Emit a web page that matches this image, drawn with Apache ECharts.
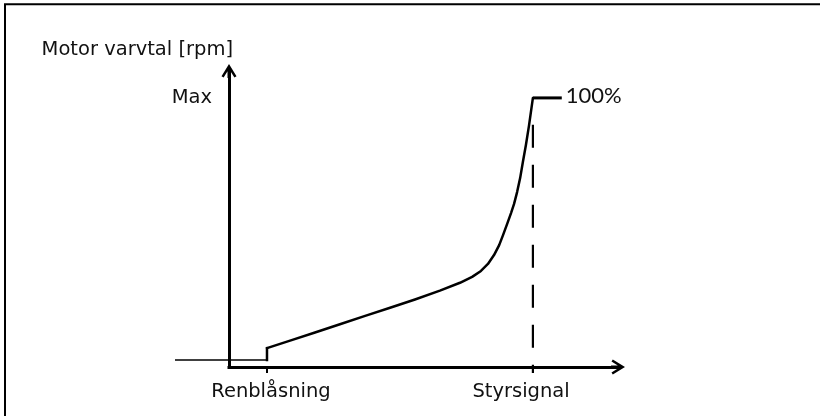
<!DOCTYPE html>
<html><head><meta charset="utf-8">
<script src="https://cdn.jsdelivr.net/npm/echarts@6/dist/echarts.min.js"></script>
<style>html,body{margin:0;padding:0;background:#fff}#c{width:820px;height:416px}</style>
</head><body><div id="c"></div>
<script>
// ---- data ----
const xTickValues = [12.5, 100];
const xLabelValues = [13.8, 96.1];
const xLabelNames = ['Renblåsning', 'Styrsignal'];
const yLabelValues = [100];
const yLabelNames = ['Max'];
const yAxisName = 'Motor varvtal [rpm]';
const leadLine = [[-17.8, 2.6], [0, 2.6]];
const baseLine = [[0, 2.6], [12.5, 2.6]];
const stepLine = [[12.5, 2.6], [12.5, 7.0]];
const curveX = [12.5, 20.1, 28.3, 36.5, 44.8, 53.0, 61.2, 69.4, 76.0, 80.0, 82.9, 85.2, 87.2, 88.9, 90.2, 91.5, 92.8, 93.8, 94.8, 95.8, 96.7, 97.7, 98.7, 100];
const curveY = [7.0, 9.8, 12.8, 15.9, 19.0, 22.0, 25.1, 28.4, 31.3, 33.5, 35.7, 38.3, 41.6, 45.3, 49.1, 53.1, 57.2, 60.6, 65.0, 70.2, 76.2, 82.5, 89.6, 100];
const topLine = [[100, 100], [109.5, 100]];
const topLabel = '100%';
const dashLine = [[100, 90], [100, -2.2]];

// ---- chart ----
const font = 'DejaVu Sans';
const ink = '#111';
const arrowPath = 'path://M7.5,0 L15,12.2 L12.9,13.5 L9,7.2 L9,14 L6,14 L6,7.2 L2.1,13.5 L0,12.2 Z';
const curveData = curveX.map((x, i) => [x, curveY[i]]);

const chart = echarts.init(document.getElementById('c'), null, {renderer: 'canvas'});
chart.setOption({
  animation: false,
  backgroundColor: '#fff',
  graphic: [{
    type: 'rect', z: 100, silent: true,
    shape: {x: 5, y: 4.2, width: 900, height: 500},
    style: {fill: 'none', stroke: '#000', lineWidth: 2}
  }],
  grid: [
    {left: 229, right: 202, top: 71, bottom: 49},
    {left: 175, width: 54, top: 71, bottom: 49}
  ],
  xAxis: [{
    type: 'value', min: 0, max: 128, gridIndex: 0,
    splitLine: {show: false},
    axisLine: {show: true, onZero: false, symbol: ['none', arrowPath], symbolSize: [15, 14],
      lineStyle: {color: '#000', width: 3, cap: 'square'}},
    axisTick: {show: true, customValues: xTickValues, length: 6, inside: false,
      lineStyle: {color: '#000', width: 2}},
    axisLabel: {show: true, customValues: xLabelValues, margin: 15,
      formatter: v => xLabelNames[xLabelValues.indexOf(v)] || '',
      fontFamily: font, fontSize: 19.5, color: ink}
  }, {
    type: 'value', min: -17.8, max: 0, gridIndex: 1, show: false
  }],
  yAxis: [{
    type: 'value', min: 0, max: 110, gridIndex: 0,
    name: yAxisName, nameLocation: 'end', nameGap: 11,
    nameTextStyle: {fontFamily: font, fontSize: 19.5, color: ink, align: 'right', padding: [0, -4, 0, 0]},
    splitLine: {show: false},
    axisLine: {show: true, onZero: false, symbol: ['none', arrowPath], symbolSize: [15, 14],
      lineStyle: {color: '#000', width: 3, cap: 'square'}},
    axisTick: {show: false},
    axisLabel: {show: true, customValues: yLabelValues, margin: 17, padding: [0, 0, 7, 0],
      formatter: v => yLabelNames[yLabelValues.indexOf(v)] || '',
      fontFamily: font, fontSize: 19.5, color: ink}
  }, {
    type: 'value', min: 0, max: 110, gridIndex: 1, show: false
  }],
  series: [
    {type: 'line', name: 'lead', data: leadLine, xAxisIndex: 1, yAxisIndex: 1, clip: false,
      showSymbol: false, silent: true, lineStyle: {color: '#000', width: 1.5}},
    {type: 'line', name: 'base', data: baseLine, clip: false, showSymbol: false, silent: true,
      lineStyle: {color: '#000', width: 1.5}},
    {type: 'line', name: 'step', data: stepLine, clip: false, showSymbol: false, silent: true,
      lineStyle: {color: '#000', width: 2.5, cap: 'square'}},
    {type: 'line', name: 'curve', data: curveData, clip: false, showSymbol: false, silent: true,
      smooth: false,
      lineStyle: {color: '#000', width: 2.5, cap: 'round', join: 'round'}},
    {type: 'line', name: 'top', data: topLine, clip: false, showSymbol: false, silent: true,
      lineStyle: {color: '#000', width: 3},
      endLabel: {show: true, formatter: topLabel, distance: 4, offset: [0, -2],
        fontFamily: 'Lato', fontSize: 22, color: ink}},
    {type: 'line', name: 'dash', data: dashLine, clip: false, showSymbol: false, silent: true,
      lineStyle: {color: '#000', width: 2.2, type: [23, 17]}}
  ]
});
</script></body></html>
